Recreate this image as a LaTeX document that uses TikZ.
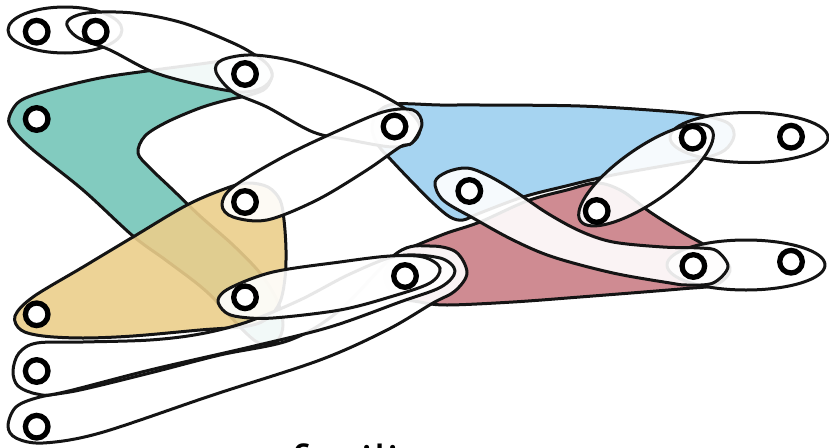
\documentclass[tikz,border=0pt]{standalone}
\usepackage{fontspec}
\newfontfamily\captionfont{Open Sans}
\definecolor{tealfill}{RGB}{116,197,184}
\definecolor{yellowfill}{RGB}{235,206,139}
\definecolor{bluefill}{RGB}{156,207,240}
\definecolor{redfill}{RGB}{202,126,134}
\definecolor{outline}{RGB}{20,20,20}
\begin{document}
\begin{tikzpicture}[x=1pt,y=-1pt,
  hyper/.style={draw=outline, line width=3pt, fill opacity=0.9, line join=round},
  pairedge/.style={hyper, fill=white},
  vertex/.style={circle, draw=black, line width=5.3pt, fill=white,
    minimum size=22.6pt, inner sep=0pt},
  blob/.style={smooth cycle, tension=0.55}]
\useasboundingbox (0,0) rectangle (829,447);
\clip (0,0) rectangle (829,447);

% vertex positions
\coordinate (p1) at (36.7,31.7);
\coordinate (p2) at (95.7,31.7);
\coordinate (p3) at (245,74);
\coordinate (p4) at (36.7,119);
\coordinate (p5) at (394.5,126.5);
\coordinate (p6) at (692.7,137.7);
\coordinate (p7) at (791,136.7);
\coordinate (p8) at (469.3,191);
\coordinate (p9) at (245,202);
\coordinate (p10) at (596.7,211);
\coordinate (p11) at (405,276);
\coordinate (p12) at (693.3,266);
\coordinate (p13) at (791,261.7);
\coordinate (p14) at (245,297.3);
\coordinate (p15) at (36.7,314.3);
\coordinate (p16) at (36.7,371);
\coordinate (p17) at (36.7,426.7);

% coloured hyperedges
\draw[hyper, fill=tealfill] plot[blob] coordinates {
  (9,118) (20,101) (50,90) (100,78) (147,71) (200,64) (240,59) (262,62)
  (272,73) (266,88) (250,95) (227,100) (200,108) (167,122) (145,136)
  (138,153) (150,168) (173,190) (200,216) (233,245) (260,273) (277,300)
  (283,325) (277,341) (262,344) (246,333) (207,292) (167,261) (133,236)
  (83,190) (33,150) (13,130)};
\draw[hyper, fill=yellowfill] plot[blob] coordinates {
  (15,316) (33,297) (83,267) (133,237) (187,205) (227,188) (248,183)
  (268,187) (280,200) (284,220) (286,250) (285,278) (280,302) (268,318)
  (248,326) (200,330) (133,336) (83,338) (43,336) (21,330)};
\draw[hyper, fill=bluefill] plot[blob] coordinates {
  (395,104) (440,105) (480,105) (580,106) (663,111) (700,115) (728,123)
  (734,136) (725,150) (705,158) (680,163) (613,175) (566,186) (523,197)
  (480,213) (463,220) (450,217) (433,203) (413,183) (393,162) (378,145)
  (372,128) (378,112)};
\draw[hyper, fill=redfill] plot[blob] coordinates {
  (398,253) (417,245) (447,233) (480,222) (527,201) (567,190) (597,183)
  (622,191) (650,212) (680,231) (703,244) (722,256) (730,271) (715,285)
  (680,289) (580,297) (513,302) (447,305) (420,302) (396,296) (385,276)};

% two-vertex edges
\draw[pairedge] (65,30) ellipse [x radius=57pt, y radius=23pt];
\draw[pairedge] plot[blob] coordinates {
  (67,22) (87,13) (133,13) (183,23) (233,43) (255,55) (268,65) (272,77)
  (262,88) (240,92) (200,85) (153,72) (110,50) (77,37)};
\draw[pairedge] plot[blob] coordinates {
  (216,72) (222,60) (253,55) (300,63) (367,88) (407,110) (420,126)
  (414,141) (393,147) (350,140) (313,132) (267,107) (233,92)};
\draw[pairedge] plot[blob] coordinates {
  (222,205) (233,187) (283,157) (333,133) (383,112) (413,110) (422,124)
  (412,143) (400,147) (367,170) (317,200) (267,220) (233,217)};
\draw[pairedge] (749,137.5) ellipse [x radius=79pt, y radius=25pt];
\draw[pairedge] (746,265) ellipse [x radius=79pt, y radius=25pt];
\draw[pairedge, rotate around={35:(646,175)}] (646,175) ellipse [x radius=80pt, y radius=27pt];
\draw[pairedge] plot[blob] coordinates {
  (435,182) (447,172) (467,168) (487,175) (513,190) (547,213) (580,231)
  (613,242) (663,247) (700,248) (717,251) (728,267) (713,283) (687,285)
  (670,283) (613,273) (553,257) (513,240) (473,218) (443,200)};
\draw[pairedge] plot[blob] coordinates {
  (8,426) (16,407) (40,397) (80,390) (150,373) (220,355) (290,340)
  (340,310) (397,253) (430,246) (456,252) (467,273) (455,291) (433,303)
  (387,330) (320,360) (213,395) (100,433) (43,443) (16,438)};
\draw[pairedge] plot[blob] coordinates {
  (13,371) (19,353) (37,343) (83,342) (150,340) (200,334) (247,322)
  (300,300) (350,274) (397,256) (440,258) (455,271) (441,287) (400,302)
  (330,327) (250,347) (150,370) (60,393) (37,394) (18,386)};
\draw[pairedge] plot[blob] coordinates {
  (218,300) (230,288) (273,272) (340,262) (390,256) (423,257) (440,268)
  (430,283) (390,297) (340,310) (273,318) (240,317) (225,312)};

% vertices
\foreach \i in {1,...,17} \node[vertex] (v\i) at (p\i) {};

\node[anchor=base west, inner sep=0pt, font=\captionfont\fontsize{52}{52}\selectfont]
  (caption) at (289,483) {facilitat};
\end{tikzpicture}
\end{document}
